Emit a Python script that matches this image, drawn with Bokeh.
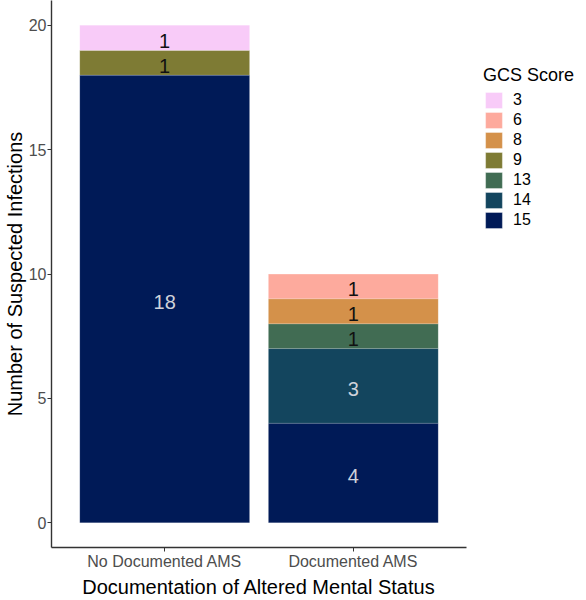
from bokeh.plotting import figure
from bokeh.layouts import row
from bokeh.models import (ColumnDataSource, FactorRange, Range1d, FixedTicker,
                          Legend, LegendItem)
from bokeh.core.properties import value
from bokeh.embed import file_html
from bokeh.resources import INLINE

# ---- data ----
categories = ["No Documented AMS", "Documented AMS"]
gcs_levels = ["15", "14", "13", "9", "8", "6", "3"]   # stacking order, bottom to top
gcs_15 = [18, 4]
gcs_14 = [0, 3]
gcs_13 = [0, 1]
gcs_9 = [1, 0]
gcs_8 = [0, 1]
gcs_6 = [0, 1]
gcs_3 = [1, 0]
y_ticks = [0, 5, 10, 15, 20]

counts = {"15": gcs_15, "14": gcs_14, "13": gcs_13, "9": gcs_9,
          "8": gcs_8, "6": gcs_6, "3": gcs_3}

# ---- styles ----
FONT = "Liberation Sans"
fill_colors = {"15": "#001A57", "14": "#13455E", "13": "#416C53", "9": "#7E7B34",
               "8": "#D4914A", "6": "#FDAA9D", "3": "#F8CBF8"}
text_colors = {"15": "#CFD2DA", "14": "#CFD2DA", "13": "#111111", "9": "#111111",
               "8": "#111111", "6": "#111111", "3": "#111111"}

data = {"cat": categories}
for lvl in gcs_levels:
    data[lvl] = counts[lvl]
source = ColumnDataSource(data)

p = figure(x_range=FactorRange(factors=categories, range_padding=0.1,
                               range_padding_units="absolute"),
           y_range=Range1d(-1, 21),
           width=470, height=600, output_backend="svg", toolbar_location=None,
           min_border_left=49, min_border_right=4, min_border_top=0,
           min_border_bottom=51)

renderers = p.vbar_stack(gcs_levels, x="cat", width=0.9, source=source,
                         color=[fill_colors[l] for l in gcs_levels],
                         line_color="white", line_alpha=0.12, line_width=1)

# value labels at stack mid-points
lx, ly, lt, lc = [], [], [], []
for i, cat in enumerate(categories):
    base = 0
    for lvl in gcs_levels:
        v = counts[lvl][i]
        if v > 0:
            lx.append(cat)
            ly.append(base + v / 2)
            lt.append(str(v))
            lc.append(text_colors[lvl])
        base += v
lsrc = ColumnDataSource(dict(x=lx, y=ly, t=lt, c=lc))
p.text(x="x", y="y", text="t", source=lsrc, text_color="c",
       text_align="center", text_baseline="middle", y_offset=3,
       text_font=value(FONT), text_font_size="20px")

# axes
p.xgrid.visible = False
p.ygrid.visible = False
p.outline_line_color = None
p.background_fill_color = "white"
p.border_fill_color = "white"

for ax in (p.xaxis[0], p.yaxis[0]):
    ax.axis_line_color = "#333333"
    ax.axis_line_width = 1.4
    ax.major_tick_line_color = "#333333"
    ax.major_tick_out = 4
    ax.major_tick_in = 0
    ax.minor_tick_line_color = None
    ax.major_label_text_font = FONT
    ax.major_label_text_font_size = "16px"
    ax.major_label_text_color = "#4D4D4D"
    ax.axis_label_text_font = FONT
    ax.axis_label_text_font_size = "20px"
    ax.axis_label_text_font_style = "normal"
    ax.axis_label_text_color = "black"

p.yaxis[0].ticker = FixedTicker(ticks=y_ticks)
p.yaxis[0].major_label_standoff = 1
p.yaxis[0].axis_label = "Number of Suspected Infections"
p.yaxis[0].axis_label_standoff = 0
p.xaxis[0].major_label_standoff = 1
p.xaxis[0].axis_label = "Documentation of Altered Mental Status"
p.xaxis[0].axis_label_standoff = 3

# legend in a companion panel
q = figure(x_range=Range1d(0, 1), y_range=Range1d(0, 1), width=116, height=600,
           output_backend="svg", toolbar_location=None,
           min_border_left=0, min_border_right=0, min_border_top=0,
           min_border_bottom=0)
q.axis.visible = False
q.grid.visible = False
q.outline_line_color = None
q.background_fill_color = "white"
q.border_fill_color = "white"

items = []
for lvl in gcs_levels[::-1]:
    # proxy glyph kept outside the visible range; only its legend swatch shows
    r = q.rect(x=[-5], y=[-5], width=0.1, height=0.1, fill_color=fill_colors[lvl],
               line_color="white", line_alpha=0.35, line_width=1)
    items.append(LegendItem(label=lvl, renderers=[r]))

legend = Legend(items=items, location=(13, 317), title="GCS Score",
                title_text_font=FONT, title_text_font_size="18px",
                title_text_font_style="normal", title_text_color="black",
                title_standoff=4,
                label_text_font=FONT, label_text_font_size="16px",
                label_text_color="black", label_standoff=9,
                glyph_width=21, glyph_height=20, label_height=20, spacing=0,
                padding=0, margin=0, border_line_color=None,
                background_fill_alpha=0)
q.add_layout(legend)

layout = row(p, q, spacing=0)
open("out.html", "w").write(file_html(layout, INLINE))
